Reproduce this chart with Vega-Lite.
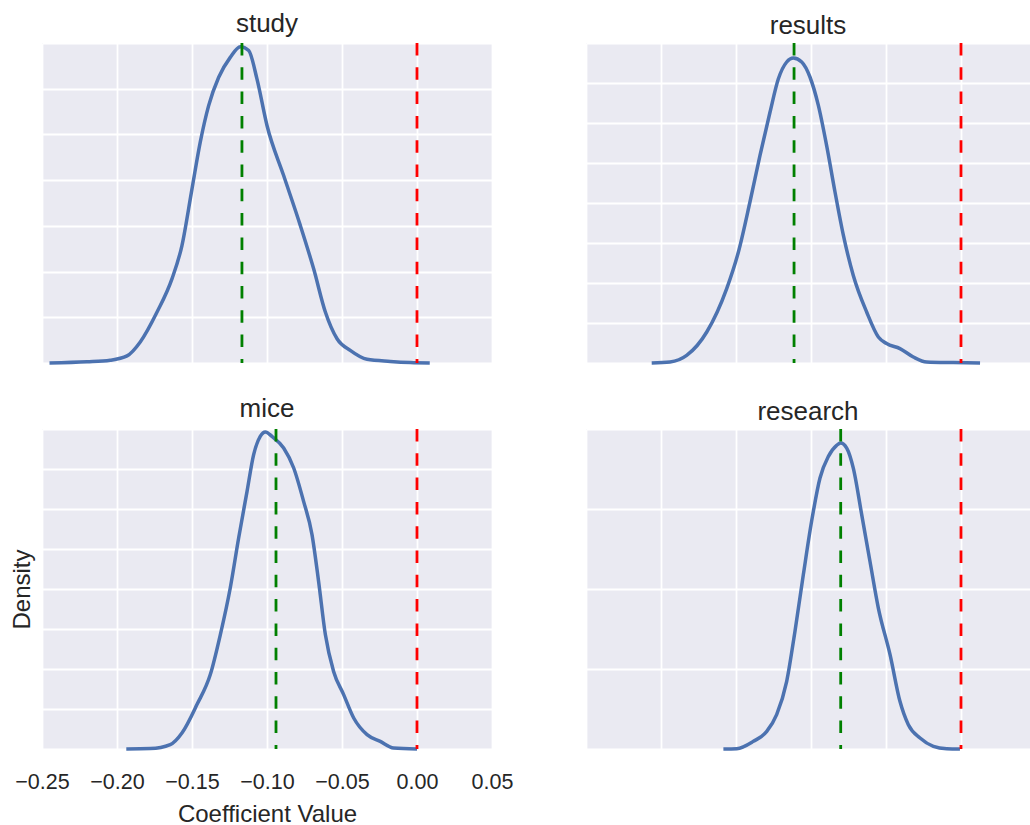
{
  "$schema": "https://vega.github.io/schema/vega-lite/v6.json",
  "padding": {"left": 10, "top": 10, "right": 0, "bottom": 0},
  "background": "#FFFFFF",
  "datasets": {
    "kde": [
      {"word": "study", "x": -0.245, "density": 0},
      {"word": "study", "x": -0.22, "density": 0.05},
      {"word": "study", "x": -0.2045, "density": 0.12},
      {"word": "study", "x": -0.1933, "density": 0.31},
      {"word": "study", "x": -0.1845, "density": 0.92},
      {"word": "study", "x": -0.1733, "density": 2.23},
      {"word": "study", "x": -0.1633, "density": 3.69},
      {"word": "study", "x": -0.1567, "density": 5.14},
      {"word": "study", "x": -0.15, "density": 7.62},
      {"word": "study", "x": -0.1445, "density": 9.66},
      {"word": "study", "x": -0.1389, "density": 11.26},
      {"word": "study", "x": -0.1322, "density": 12.5},
      {"word": "study", "x": -0.1245, "density": 13.37},
      {"word": "study", "x": -0.1178, "density": 13.84},
      {"word": "study", "x": -0.1122, "density": 13.67},
      {"word": "study", "x": -0.1067, "density": 12.43},
      {"word": "study", "x": -0.1, "density": 10.39},
      {"word": "study", "x": -0.0889, "density": 8.2},
      {"word": "study", "x": -0.0778, "density": 6.02},
      {"word": "study", "x": -0.0689, "density": 4.12},
      {"word": "study", "x": -0.0611, "density": 2.23},
      {"word": "study", "x": -0.0533, "density": 1.06},
      {"word": "study", "x": -0.0445, "density": 0.55},
      {"word": "study", "x": -0.0333, "density": 0.16},
      {"word": "study", "x": -0.0178, "density": 0.07},
      {"word": "study", "x": -0.0045, "density": 0.02},
      {"word": "study", "x": 0.0085, "density": 0},

      {"word": "results", "x": -0.2062, "density": 0},
      {"word": "results", "x": -0.194, "density": 0.05},
      {"word": "results", "x": -0.1829, "density": 0.38},
      {"word": "results", "x": -0.1695, "density": 1.55},
      {"word": "results", "x": -0.1562, "density": 3.72},
      {"word": "results", "x": -0.1484, "density": 5.55},
      {"word": "results", "x": -0.1407, "density": 8.05},
      {"word": "results", "x": -0.134, "density": 10.38},
      {"word": "results", "x": -0.1273, "density": 12.55},
      {"word": "results", "x": -0.1218, "density": 14.2},
      {"word": "results", "x": -0.1162, "density": 15.05},
      {"word": "results", "x": -0.1118, "density": 15.25},
      {"word": "results", "x": -0.1062, "density": 15.05},
      {"word": "results", "x": -0.1007, "density": 14.3},
      {"word": "results", "x": -0.0951, "density": 12.88},
      {"word": "results", "x": -0.0896, "density": 10.88},
      {"word": "results", "x": -0.084, "density": 8.55},
      {"word": "results", "x": -0.0784, "density": 6.38},
      {"word": "results", "x": -0.0718, "density": 4.38},
      {"word": "results", "x": -0.0629, "density": 2.55},
      {"word": "results", "x": -0.0551, "density": 1.3},
      {"word": "results", "x": -0.0496, "density": 0.97},
      {"word": "results", "x": -0.0407, "density": 0.72},
      {"word": "results", "x": -0.0318, "density": 0.3},
      {"word": "results", "x": -0.0229, "density": 0.05},
      {"word": "results", "x": -0.0051, "density": 0.02},
      {"word": "results", "x": 0.0127, "density": 0},

      {"word": "mice", "x": -0.1938, "density": 0},
      {"word": "mice", "x": -0.1778, "density": 0.02},
      {"word": "mice", "x": -0.1645, "density": 0.22},
      {"word": "mice", "x": -0.1567, "density": 0.8},
      {"word": "mice", "x": -0.1467, "density": 2.22},
      {"word": "mice", "x": -0.1378, "density": 3.72},
      {"word": "mice", "x": -0.1311, "density": 5.72},
      {"word": "mice", "x": -0.1245, "density": 8.05},
      {"word": "mice", "x": -0.1189, "density": 10.55},
      {"word": "mice", "x": -0.1133, "density": 12.88},
      {"word": "mice", "x": -0.1089, "density": 14.72},
      {"word": "mice", "x": -0.1045, "density": 15.63},
      {"word": "mice", "x": -0.1011, "density": 15.85},
      {"word": "mice", "x": -0.0967, "density": 15.63},
      {"word": "mice", "x": -0.0889, "density": 15.05},
      {"word": "mice", "x": -0.0822, "density": 14.05},
      {"word": "mice", "x": -0.0756, "density": 12.38},
      {"word": "mice", "x": -0.07, "density": 10.72},
      {"word": "mice", "x": -0.0656, "density": 8.38},
      {"word": "mice", "x": -0.0611, "density": 5.72},
      {"word": "mice", "x": -0.0556, "density": 3.88},
      {"word": "mice", "x": -0.0489, "density": 2.72},
      {"word": "mice", "x": -0.0422, "density": 1.55},
      {"word": "mice", "x": -0.0333, "density": 0.72},
      {"word": "mice", "x": -0.0245, "density": 0.38},
      {"word": "mice", "x": -0.0156, "density": 0.05},
      {"word": "mice", "x": 0.0, "density": 0},

      {"word": "research", "x": -0.1584, "density": 0},
      {"word": "research", "x": -0.1495, "density": 0.02},
      {"word": "research", "x": -0.1384, "density": 0.48},
      {"word": "research", "x": -0.1295, "density": 1.1},
      {"word": "research", "x": -0.1229, "density": 2.15},
      {"word": "research", "x": -0.1162, "density": 4.23},
      {"word": "research", "x": -0.1107, "density": 7.35},
      {"word": "research", "x": -0.1051, "density": 10.9},
      {"word": "research", "x": -0.0996, "density": 14.23},
      {"word": "research", "x": -0.094, "density": 16.94},
      {"word": "research", "x": -0.0884, "density": 18.29},
      {"word": "research", "x": -0.0829, "density": 18.98},
      {"word": "research", "x": -0.0802, "density": 19.13},
      {"word": "research", "x": -0.0762, "density": 18.81},
      {"word": "research", "x": -0.0718, "density": 17.56},
      {"word": "research", "x": -0.0662, "density": 14.65},
      {"word": "research", "x": -0.0607, "density": 11.73},
      {"word": "research", "x": -0.0551, "density": 8.81},
      {"word": "research", "x": -0.0473, "density": 5.9},
      {"word": "research", "x": -0.0407, "density": 2.98},
      {"word": "research", "x": -0.0351, "density": 1.52},
      {"word": "research", "x": -0.0273, "density": 0.69},
      {"word": "research", "x": -0.0184, "density": 0.17},
      {"word": "research", "x": -0.0095, "density": 0.02},
      {"word": "research", "x": -0.0007, "density": 0}
    ],
    "vlines": [
      {"word": "study", "kind": "mean", "x": -0.1167},
      {"word": "study", "kind": "zero", "x": 0.0},
      {"word": "results", "kind": "mean", "x": -0.1113},
      {"word": "results", "kind": "zero", "x": 0.0},
      {"word": "mice", "kind": "mean", "x": -0.094},
      {"word": "mice", "kind": "zero", "x": 0.0},
      {"word": "research", "kind": "mean", "x": -0.0802},
      {"word": "research", "kind": "zero", "x": 0.0}
    ]
  },
  "columns": 2,
  "spacing": {"row": 66, "column": 94},
  "bounds": "flush",
  "concat": [
    {
      "width": 450, "height": 320,
      "title": "study",
      "layer": [
        {
          "data": {"name": "kde"},
          "transform": [{"filter": "datum.word === 'study'"}],
          "mark": {"type": "line", "color": "#4C72B0", "strokeWidth": 3.5, "interpolate": "monotone"},
          "encoding": {
            "x": {"field": "x", "type": "quantitative", "scale": {"domain": [-0.25, 0.05], "nice": false, "zero": false},
                  "axis": {"title": null, "values": [-0.25, -0.2, -0.15, -0.1, -0.05, 0, 0.05]}},
            "y": {"field": "density", "type": "quantitative", "scale": {"domain": [0, 14], "nice": false},
                  "axis": {"title": null, "values": [0, 2, 4, 6, 8, 10, 12, 14]}}
          }
        },
        {
          "data": {"name": "vlines"},
          "transform": [{"filter": "datum.word === 'study'"}],
          "mark": {"type": "rule", "strokeWidth": 2.8, "strokeDash": [12.5, 11.8]},
          "encoding": {
            "x": {"field": "x", "type": "quantitative"},
            "color": {"field": "kind", "type": "nominal", "scale": {"domain": ["mean", "zero"], "range": ["#008000", "#FF0000"]}, "legend": null}
          }
        }
      ]
    },
    {
      "width": 444, "height": 320,
      "title": "results",
      "layer": [
        {
          "data": {"name": "kde"},
          "transform": [{"filter": "datum.word === 'results'"}],
          "mark": {"type": "line", "color": "#4C72B0", "strokeWidth": 3.5, "interpolate": "monotone"},
          "encoding": {
            "x": {"field": "x", "type": "quantitative", "scale": {"domain": [-0.25, 0.046], "nice": false, "zero": false},
                  "axis": {"title": null, "values": [-0.25, -0.2, -0.15, -0.1, -0.05, 0]}},
            "y": {"field": "density", "type": "quantitative", "scale": {"domain": [0, 16], "nice": false},
                  "axis": {"title": null, "values": [0, 2, 4, 6, 8, 10, 12, 14, 16]}}
          }
        },
        {
          "data": {"name": "vlines"},
          "transform": [{"filter": "datum.word === 'results'"}],
          "mark": {"type": "rule", "strokeWidth": 2.8, "strokeDash": [12.5, 11.8]},
          "encoding": {
            "x": {"field": "x", "type": "quantitative"},
            "color": {"field": "kind", "type": "nominal", "scale": {"domain": ["mean", "zero"], "range": ["#008000", "#FF0000"]}, "legend": null}
          }
        }
      ]
    },
    {
      "width": 450, "height": 320,
      "title": "mice",
      "layer": [
        {
          "data": {"name": "kde"},
          "transform": [{"filter": "datum.word === 'mice'"}],
          "mark": {"type": "line", "color": "#4C72B0", "strokeWidth": 3.5, "interpolate": "monotone"},
          "encoding": {
            "x": {"field": "x", "type": "quantitative", "scale": {"domain": [-0.25, 0.05], "nice": false, "zero": false},
                  "axis": {"title": "Coefficient Value", "labels": true, "format": ".2f", "values": [-0.25, -0.2, -0.15, -0.1, -0.05, 0, 0.05]}},
            "y": {"field": "density", "type": "quantitative", "scale": {"domain": [0, 16], "nice": false},
                  "axis": {"title": "Density", "titlePadding": 8, "values": [0, 2, 4, 6, 8, 10, 12, 14, 16]}}
          }
        },
        {
          "data": {"name": "vlines"},
          "transform": [{"filter": "datum.word === 'mice'"}],
          "mark": {"type": "rule", "strokeWidth": 2.8, "strokeDash": [12.5, 11.8]},
          "encoding": {
            "x": {"field": "x", "type": "quantitative"},
            "color": {"field": "kind", "type": "nominal", "scale": {"domain": ["mean", "zero"], "range": ["#008000", "#FF0000"]}, "legend": null}
          }
        }
      ]
    },
    {
      "width": 444, "height": 320,
      "title": "research",
      "layer": [
        {
          "data": {"name": "kde"},
          "transform": [{"filter": "datum.word === 'research'"}],
          "mark": {"type": "line", "color": "#4C72B0", "strokeWidth": 3.5, "interpolate": "monotone"},
          "encoding": {
            "x": {"field": "x", "type": "quantitative", "scale": {"domain": [-0.25, 0.046], "nice": false, "zero": false},
                  "axis": {"title": null, "values": [-0.25, -0.2, -0.15, -0.1, -0.05, 0]}},
            "y": {"field": "density", "type": "quantitative", "scale": {"domain": [0, 20], "nice": false},
                  "axis": {"title": null, "values": [0, 5, 10, 15, 20]}}
          }
        },
        {
          "data": {"name": "vlines"},
          "transform": [{"filter": "datum.word === 'research'"}],
          "mark": {"type": "rule", "strokeWidth": 2.8, "strokeDash": [12.5, 11.8]},
          "encoding": {
            "x": {"field": "x", "type": "quantitative"},
            "color": {"field": "kind", "type": "nominal", "scale": {"domain": ["mean", "zero"], "range": ["#008000", "#FF0000"]}, "legend": null}
          }
        }
      ]
    }
  ],
  "resolve": {"scale": {"x": "independent", "y": "independent"}},
  "config": {
    "font": "Liberation Sans",
    "view": {"fill": "#EAEAF2", "stroke": null},
    "axis": {
      "grid": true, "gridColor": "#FFFFFF", "gridWidth": 1.8, "gridOpacity": 1,
      "domain": false, "ticks": false, "tickSize": 0, "labels": false,
      "minExtent": 0, "labelFlush": false, "labelOverlap": false,
      "labelColor": "#262626", "titleColor": "#262626",
      "labelFont": "Liberation Sans", "titleFont": "Liberation Sans",
      "labelFontSize": 21.5, "titleFontSize": 24, "titleFontWeight": "normal",
      "labelPadding": 22, "titlePadding": 10
    },
    "title": {
      "font": "Liberation Sans", "fontSize": 26, "fontWeight": "normal", "color": "#262626",
      "anchor": "middle", "frame": "group", "baseline": "alphabetic", "offset": 3
    }
  }
}
